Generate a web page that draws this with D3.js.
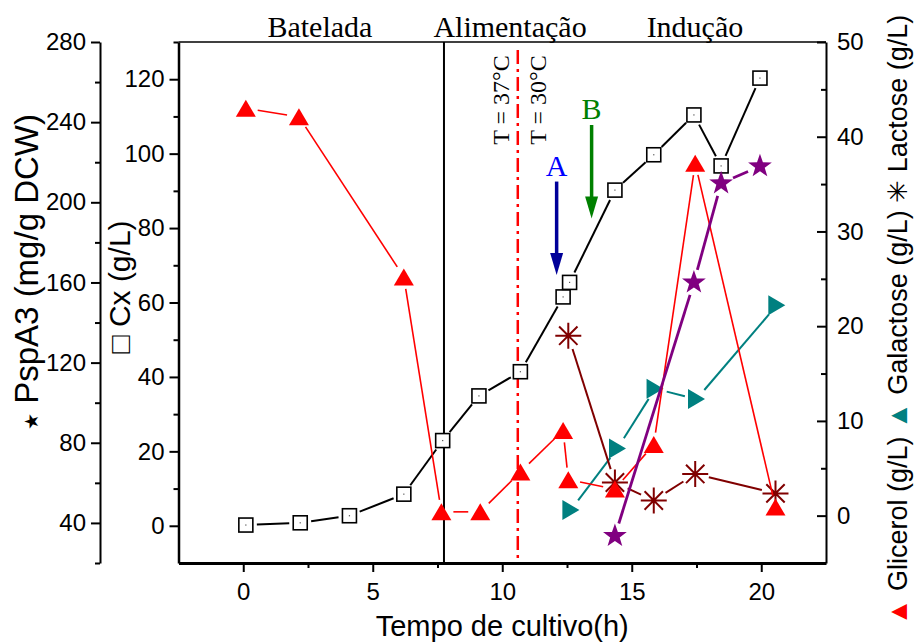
<!DOCTYPE html>
<html>
<head>
<meta charset="utf-8">
<script src="https://cdn.jsdelivr.net/npm/d3@7"></script>
<style>
  body { margin: 0; background: #fff; }
  svg { display: block; }
</style>
</head>
<body>
<svg id="chart" width="915" height="643"></svg>
<script>
// Cultivation run: biomass (Cx), carbon sources and PspA3 versus time

// Biomass, Cx (g/L) — left inner axis
const cxTime  = [0.1, 2.2, 4.1, 6.2, 7.7, 9.1, 10.7, 12.35, 12.6, 14.35, 15.85, 17.4, 18.45, 19.95];
const cxValue = [0.2, 0.8, 2.7, 8.5, 22.9, 34.9, 41.4, 61.5, 65.4, 90.2, 99.7, 110.4, 96.7, 120.3];

// Glycerol (g/L) — right axis
const glicerolTime  = [0.1, 2.15, 6.2, 7.65, 9.15, 10.7, 12.35, 12.55, 14.35, 15.85, 17.45, 20.55];
const glicerolValue = [43.0, 42.1, 25.2, 0.4, 0.4, 4.6, 9.0, 3.8, 2.8, 7.5, 37.2, 0.9];

// Galactose (g/L) — right axis
const galactoseTime  = [12.65, 14.45, 15.9, 17.5, 20.6];
const galactoseValue = [0.6, 7.1, 13.4, 12.3, 22.2];

// Lactose (g/L) — right axis
const lactoseTime  = [12.55, 14.35, 15.85, 17.45, 20.55];
const lactoseValue = [19.0, 3.5, 1.6, 4.4, 2.35];

// PspA3 (mg/g DCW) — left outer axis
const pspTime  = [14.35, 17.4, 18.45, 19.95];
const pspValue = [33.5, 160, 209.5, 218];

// Tick values
const xTicks      = [0, 5, 10, 15, 20];
const xMinor      = [2.5, 7.5, 12.5, 17.5];
const cxTicks     = [0, 20, 40, 60, 80, 100, 120];
const cxMinor     = [10, 30, 50, 70, 90, 110, 130];
const pspTicks    = [40, 80, 120, 160, 200, 240, 280];
const pspMinor    = [20, 60, 100, 140, 180, 220, 260];
const rightTicks  = [0, 10, 20, 30, 40, 50];
const rightMinor  = [5, 15, 25, 35, 45];

// Process phases and events (time in h)
const phaseNames = ["Batelada", "Alimentação", "Indução"];
const phaseLabelTime = [2.96, 10.3, 17.44];
const batchEndTime = 7.75;
const tempShiftTime = 10.6;
const tempLabels = ["T = 37°C", "T = 30°C"];
// Arrows A and B: time, start and end (in Cx units)
const arrowNames = ["A", "B"];
const arrowTime  = [12.1, 13.45];
const arrowFrom  = [92.5, 107.7];
const arrowTo    = [67.4, 82.6];

const SANS = "'Liberation Sans', Arial, Helvetica, sans-serif";
const SERIF = "'Liberation Serif', 'Times New Roman', Times, serif";

const svg = d3.select("#chart");
const frame = { left: 178.5, right: 826, top: 42, bottom: 563 };

const x = d3.scaleLinear().domain([-2.5, 22.5]).range([frame.left, frame.right]);
const yCx = d3.scaleLinear().domain([-10, 130]).range([frame.bottom, frame.top]);
const yRight = d3.scaleLinear().domain([-5, 50]).range([frame.bottom, frame.top]);
const yPsp = d3.scaleLinear().domain([20, 280]).range([frame.bottom, frame.top]);
const pspAxisX = 100;

function styleAxis(g, width) {
  g.attr("font-size", 24).attr("font-family", SANS);
  g.selectAll(".domain").attr("stroke", "#000").attr("stroke-width", width);
  g.selectAll(".tick line").attr("stroke", "#000").attr("stroke-width", 2);
  g.selectAll(".tick text").attr("fill", "#000");
}

// ---- axes ----
// bottom time axis
const gx = svg.append("g").attr("transform", `translate(0,${frame.bottom})`);
gx.call(d3.axisBottom(x).tickValues(xTicks).tickSizeInner(9).tickSizeOuter(0).tickPadding(11));
styleAxis(gx, 3);
svg.append("g").attr("transform", `translate(0,${frame.bottom})`)
  .call(d3.axisBottom(x).tickValues(xMinor).tickSizeInner(5).tickSizeOuter(0).tickFormat(""))
  .call(g => { g.select(".domain").remove(); g.selectAll("line").attr("stroke", "#000").attr("stroke-width", 2); });

// top frame line
svg.append("line")
  .attr("x1", frame.left).attr("x2", frame.right)
  .attr("y1", frame.top).attr("y2", frame.top)
  .attr("stroke", "#000").attr("stroke-width", 1.5);

// Cx axis
const gcx = svg.append("g").attr("transform", `translate(${frame.left},0)`);
gcx.call(d3.axisLeft(yCx).tickValues(cxTicks).tickSizeInner(9).tickSizeOuter(0).tickPadding(5));
styleAxis(gcx, 2.5);
svg.append("g").attr("transform", `translate(${frame.left},0)`)
  .call(d3.axisLeft(yCx).tickValues(cxMinor).tickSizeInner(5).tickSizeOuter(0).tickFormat(""))
  .call(g => { g.select(".domain").remove(); g.selectAll("line").attr("stroke", "#000").attr("stroke-width", 2); });

// PspA3 axis
const gpsp = svg.append("g").attr("transform", `translate(${pspAxisX},0)`);
gpsp.call(d3.axisLeft(yPsp).tickValues(pspTicks).tickSizeInner(9).tickSizeOuter(0).tickPadding(5));
styleAxis(gpsp, 2);
svg.append("g").attr("transform", `translate(${pspAxisX},0)`)
  .call(d3.axisLeft(yPsp).tickValues(pspMinor).tickSizeInner(5).tickSizeOuter(0).tickFormat(""))
  .call(g => { g.select(".domain").remove(); g.selectAll("line").attr("stroke", "#000").attr("stroke-width", 2); });

// right axis: ticks inside, labels outside
const gr = svg.append("g").attr("transform", `translate(${frame.right},0)`);
gr.call(d3.axisRight(yRight).tickValues(rightTicks).tickSizeInner(-9).tickSizeOuter(0).tickPadding(11));
styleAxis(gr, 2);
svg.append("g").attr("transform", `translate(${frame.right},0)`)
  .call(d3.axisRight(yRight).tickValues(rightMinor).tickSizeInner(-5).tickSizeOuter(0).tickFormat(""))
  .call(g => { g.select(".domain").remove(); g.selectAll("line").attr("stroke", "#000").attr("stroke-width", 2); });

// ---- axis titles ----
svg.append("text")
  .attr("x", x(10)).attr("y", 636)
  .attr("text-anchor", "middle")
  .attr("font-family", SANS).attr("font-size", 29)
  .text("Tempo de cultivo(h)");

const tPsp = svg.append("text")
  .attr("transform", "translate(38,272) rotate(-90)")
  .attr("text-anchor", "middle")
  .attr("font-family", SANS).attr("font-size", 33);
tPsp.append("tspan").attr("font-size", 19).text("★");
tPsp.append("tspan").text(" PspA3 (mg/g DCW)");

const tCx = svg.append("text")
  .attr("transform", "translate(130,287) rotate(-90)")
  .attr("text-anchor", "middle")
  .attr("font-family", SANS).attr("font-size", 30);
tCx.append("tspan").text("□");
tCx.append("tspan").text(" Cx (g/L)");

const tR = svg.append("text")
  .attr("transform", "translate(907,320) rotate(-90)")
  .attr("text-anchor", "middle")
  .attr("font-family", SANS).attr("font-size", 27);
tR.append("tspan").attr("fill", "#ff0000").text("▲");
tR.append("tspan").text(" Glicerol (g/L) ");
tR.append("tspan").attr("fill", "#008080").text("▲");
tR.append("tspan").text(" Galactose (g/L) ");
tR.append("tspan").text("✳");
tR.append("tspan").text(" Lactose (g/L)");

// ---- phase boundaries and labels ----
svg.append("line")
  .attr("x1", x(batchEndTime)).attr("x2", x(batchEndTime))
  .attr("y1", frame.top).attr("y2", frame.bottom)
  .attr("stroke", "#000").attr("stroke-width", 2);

svg.append("line")
  .attr("x1", x(tempShiftTime)).attr("x2", x(tempShiftTime))
  .attr("y1", frame.top + 8).attr("y2", frame.bottom)
  .attr("stroke", "#ff0000").attr("stroke-width", 2.5)
  .attr("stroke-dasharray", "14,5,3,5");

svg.selectAll("text.phase")
  .data(phaseNames)
  .join("text")
  .attr("class", "phase")
  .attr("x", (d, i) => x(phaseLabelTime[i]))
  .attr("y", 37)
  .attr("text-anchor", "middle")
  .attr("font-family", SERIF).attr("font-size", 30)
  .text(d => d);

const tempOffsets = [-9, 28];
svg.selectAll("text.temp")
  .data(tempLabels)
  .join("text")
  .attr("class", "temp")
  .attr("transform", (d, i) => `translate(${x(tempShiftTime) + tempOffsets[i]},100) rotate(-90)`)
  .attr("text-anchor", "middle")
  .attr("font-family", SERIF).attr("font-size", 24)
  .attr("fill", "#000")
  .text(d => d);

// arrows A and B
const arrowShaft = ["#000099", "#008000"];
const arrowText = ["#0000ff", "#008000"];
arrowNames.forEach((name, i) => {
  const ax = x(arrowTime[i]);
  const y0 = yCx(arrowFrom[i]);
  const y1 = yCx(arrowTo[i]);
  const headLen = 22, headHalf = 6.5;
  svg.append("line")
    .attr("x1", ax).attr("x2", ax)
    .attr("y1", y0).attr("y2", y1 - headLen + 2)
    .attr("stroke", arrowShaft[i]).attr("stroke-width", 3.5);
  svg.append("path")
    .attr("d", `M${ax - headHalf},${y1 - headLen} L${ax + headHalf},${y1 - headLen} L${ax},${y1} Z`)
    .attr("fill", arrowShaft[i]);
  svg.append("text")
    .attr("x", ax).attr("y", y0 - 6)
    .attr("text-anchor", "middle")
    .attr("font-family", SERIF).attr("font-size", 30)
    .attr("fill", arrowText[i])
    .text(name);
});

// ---- data series ----
function gappedSegments(pts, r) {
  const segs = [];
  for (let i = 1; i < pts.length; i++) {
    const [ax, ay] = pts[i - 1], [bx, by] = pts[i];
    const dx = bx - ax, dy = by - ay, L = Math.hypot(dx, dy);
    if (L <= 2 * r) continue;
    const ux = dx / L, uy = dy / L;
    segs.push([ax + ux * r, ay + uy * r, bx - ux * r, by - uy * r]);
  }
  return segs;
}

function drawLine(pts, color, width, gap) {
  svg.append("g").selectAll("line")
    .data(gappedSegments(pts, gap))
    .join("line")
    .attr("x1", d => d[0]).attr("y1", d => d[1])
    .attr("x2", d => d[2]).attr("y2", d => d[3])
    .attr("stroke", color).attr("stroke-width", width);
}

function starPath(R, r) {
  const p = [];
  for (let i = 0; i < 10; i++) {
    const a = -Math.PI / 2 + i * Math.PI / 5;
    const rad = i % 2 ? r : R;
    p.push([rad * Math.cos(a), rad * Math.sin(a)]);
  }
  return "M" + p.map(q => q.join(",")).join("L") + "Z";
}

const upTri = "M0,-8.5L10,8.5L-10,8.5Z";
const rightTri = "M8.5,0L-8.5,-10L-8.5,10Z";
const asterisk = (() => {
  const R = 13, d = R * Math.SQRT1_2;
  return `M${-R},0L${R},0M0,${-R}L0,${R}M${-d},${-d}L${d},${d}M${-d},${d}L${d},${-d}`;
})();

const cxPts = cxTime.map((t, i) => [x(t), yCx(cxValue[i])]);
const gliPts = glicerolTime.map((t, i) => [x(t), yRight(glicerolValue[i])]);
const galPts = galactoseTime.map((t, i) => [x(t), yRight(galactoseValue[i])]);
const lacPts = lactoseTime.map((t, i) => [x(t), yRight(lactoseValue[i])]);
const pspPts = pspTime.map((t, i) => [x(t), yPsp(pspValue[i])]);

// Cx: open squares
drawLine(cxPts, "#000", 2, 11);
const sq = svg.append("g").selectAll("g").data(cxPts).join("g")
  .attr("transform", d => `translate(${d[0]},${d[1]})`);
sq.append("rect").attr("x", -7).attr("y", -7).attr("width", 14).attr("height", 14)
  .attr("fill", "#fff").attr("stroke", "#000").attr("stroke-width", 1.6);
sq.append("rect").attr("x", -0.6).attr("y", -0.6).attr("width", 1.2).attr("height", 1.2)
  .attr("fill", "#555");

// Galactose: teal right-pointing triangles
drawLine(galPts, "#008080", 2, 12);
svg.append("g").selectAll("path").data(galPts).join("path")
  .attr("transform", d => `translate(${d[0]},${d[1]})`)
  .attr("d", rightTri).attr("fill", "#008080");

// Lactose: dark red asterisks
drawLine(lacPts, "#800000", 2, 14);
svg.append("g").selectAll("path").data(lacPts).join("path")
  .attr("transform", d => `translate(${d[0]},${d[1]})`)
  .attr("d", asterisk).attr("fill", "none")
  .attr("stroke", "#800000").attr("stroke-width", 2);

// Glycerol: red triangles
drawLine(gliPts, "#ff0000", 1.6, 12);
svg.append("g").selectAll("path").data(gliPts).join("path")
  .attr("transform", d => `translate(${d[0]},${d[1]})`)
  .attr("d", upTri).attr("fill", "#ff0000");

// PspA3: purple stars
drawLine(pspPts, "#800080", 2.8, 13);
svg.append("g").selectAll("path").data(pspPts).join("path")
  .attr("transform", d => `translate(${d[0]},${d[1]})`)
  .attr("d", starPath(12.5, 5)).attr("fill", "#800080");
</script>
</body>
</html>
